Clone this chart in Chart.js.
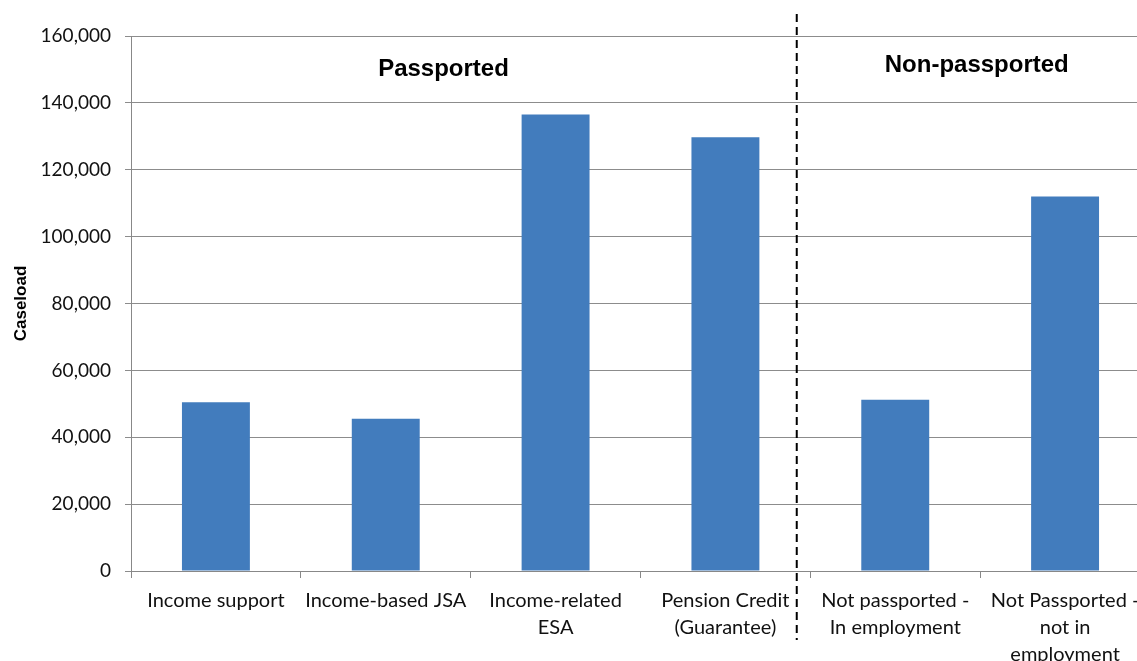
<!DOCTYPE html>
<html>
<head>
<meta charset="utf-8">
<script src="https://cdn.jsdelivr.net/npm/chart.js@4"></script>
<style>
    html, body { margin: 0; padding: 0; background: #fff; overflow: hidden; }
    #wrap { width: 1150px; height: 661px; }
</style>
</head>
<body>
<div id="wrap"><canvas id="caseloadChart"></canvas></div>
<script>
// Chart data
const categories = [
    'Income support',
    'Income-based JSA',
    ['Income-related', 'ESA'],
    ['Pension Credit', '(Guarantee)'],
    ['Not passported -', 'In employment'],
    ['Not Passported -', 'not in', 'employment']
];
const caseload = [50500, 45500, 136500, 129700, 51200, 112000];
const yTicks = [0, 20000, 40000, 60000, 80000, 100000, 120000, 140000, 160000];

// Group labels and divider position (in scale units)
const groupLabels = [
    { text: 'Passported', x: 1.34, y: 150000 },
    { text: 'Non-passported', x: 4.48, y: 151200 }
];
const divider = { x: 3.42, yTop: 166600, yBottom: -20600 };

const bodyFont = 'Lato, "Open Sans", sans-serif';

const groupPlugin = {
    id: 'groups',
    afterDraw(chart) {
        const { ctx, scales: { x, y } } = chart;
        ctx.save();
        // dashed divider
        const dx = x.getPixelForValue(divider.x);
        ctx.strokeStyle = '#000';
        ctx.lineWidth = 2;
        ctx.setLineDash([8, 5]);
        ctx.beginPath();
        ctx.moveTo(dx, y.getPixelForValue(divider.yTop));
        ctx.lineTo(dx, y.getPixelForValue(divider.yBottom));
        ctx.stroke();
        // group titles
        ctx.setLineDash([]);
        ctx.fillStyle = '#000';
        ctx.font = 'bold 24px "Liberation Sans", Arial, sans-serif';
        ctx.textAlign = 'center';
        ctx.textBaseline = 'middle';
        groupLabels.forEach(g => {
            ctx.fillText(g.text, x.getPixelForValue(g.x), y.getPixelForValue(g.y));
        });
        ctx.restore();
    }
};

new Chart(document.getElementById('caseloadChart'), {
    type: 'bar',
    data: {
        labels: categories,
        datasets: [{
            label: 'Caseload',
            data: caseload,
            backgroundColor: '#427cbd',
            barPercentage: 0.4,
            categoryPercentage: 1
        }]
    },
    options: {
        responsive: true,
        maintainAspectRatio: false,
        animation: false,
        layout: { padding: { top: 36, right: 0, bottom: 0, left: 0 } },
        plugins: {
            legend: { display: false },
            tooltip: { enabled: false }
        },
        scales: {
            x: {
                grid: {
                    offset: true,
                    drawOnChartArea: false,
                    color: '#888',
                    tickLength: 7
                },
                border: { color: '#888', width: 1 },
                ticks: {
                    color: '#111',
                    font: { family: bodyFont, size: 20, lineHeight: 1.35 },
                    maxRotation: 0,
                    autoSkip: false,
                    padding: 9
                },
                afterFit: s => { s.height = 90; }
            },
            y: {
                min: 0,
                max: 160000,
                afterBuildTicks: s => { s.ticks = yTicks.map(v => ({ value: v })); },
                grid: { color: '#8c8c8c', tickLength: 6 },
                border: { color: '#888', width: 1 },
                ticks: {
                    color: '#111',
                    font: { family: bodyFont, size: 19 },
                    padding: 14,
                    callback: v => v.toLocaleString('en-GB')
                },
                title: {
                    display: true,
                    text: 'Caseload',
                    color: '#000',
                    font: { family: '"Liberation Sans", Arial, sans-serif', size: 17, weight: 'bold' },
                    padding: { top: 11, bottom: 4 }
                },
                afterFit: s => { s.width = 131; }
            }
        }
    },
    plugins: [groupPlugin]
});
</script>
</body>
</html>
